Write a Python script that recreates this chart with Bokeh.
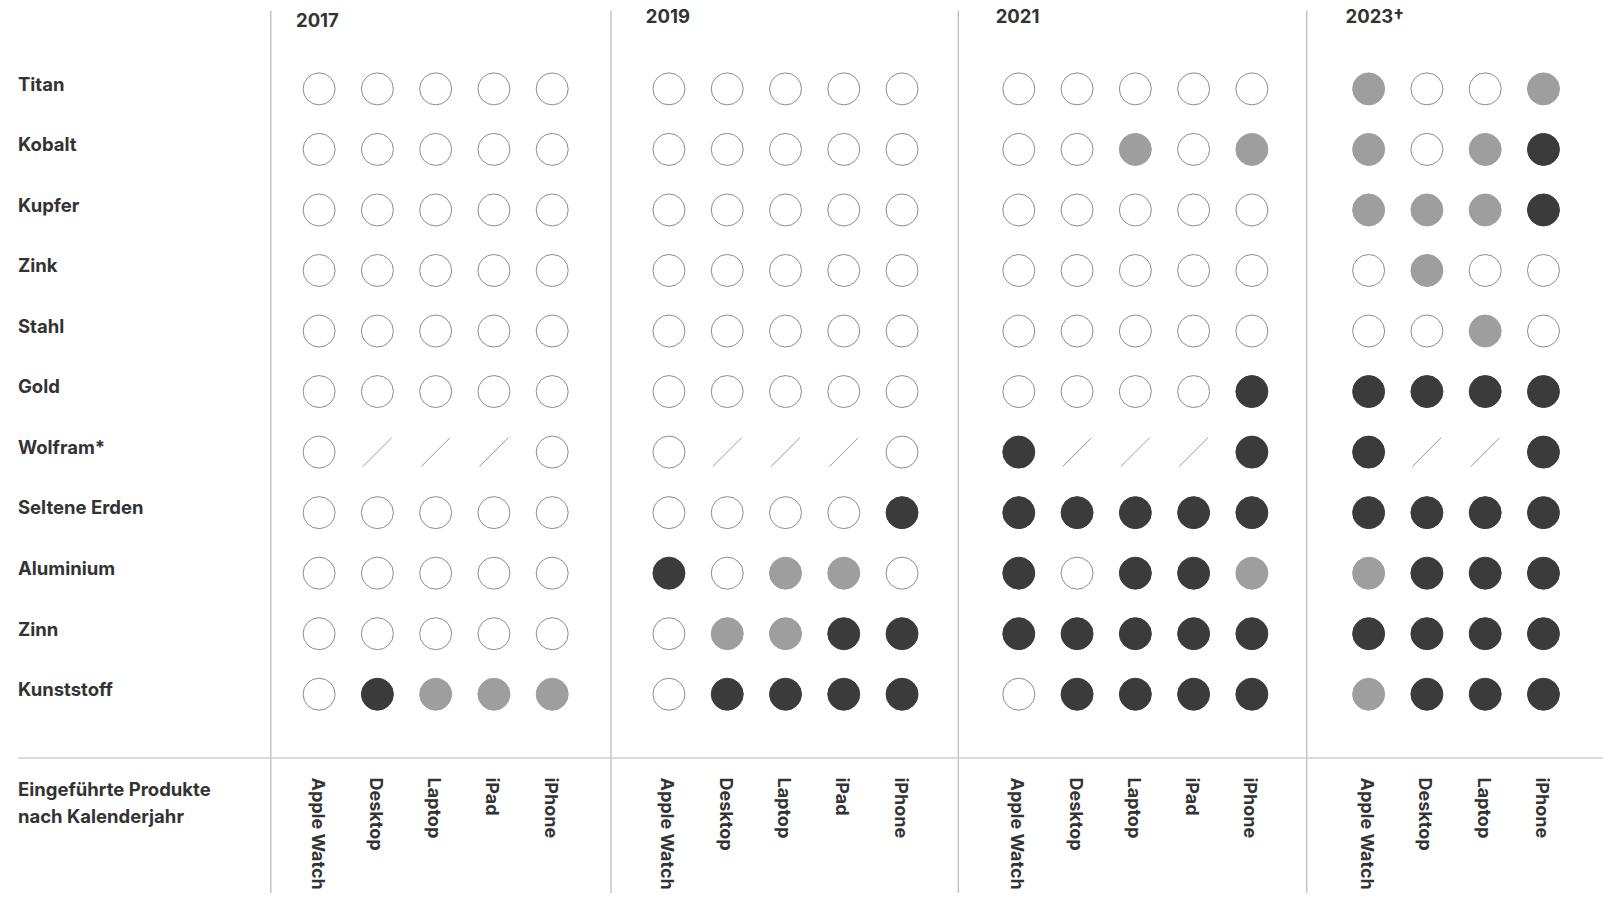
from bokeh.plotting import figure
from bokeh.models import Range1d, ColumnDataSource
from bokeh.core.properties import value
from bokeh.embed import file_html
from bokeh.resources import INLINE
import math

# ---------------- data ----------------
materials = ["Titan", "Kobalt", "Kupfer", "Zink", "Stahl", "Gold", "Wolfram*",
             "Seltene Erden", "Aluminium", "Zinn", "Kunststoff"]
years = ["2017", "2019", "2021", "2023\u2020"]
products_2017 = ["Apple Watch", "Desktop", "Laptop", "iPad", "iPhone"]
products_2019 = ["Apple Watch", "Desktop", "Laptop", "iPad", "iPhone"]
products_2021 = ["Apple Watch", "Desktop", "Laptop", "iPad", "iPhone"]
products_2023 = ["Apple Watch", "Desktop", "Laptop", "iPhone"]
footer_label = ["Eingeführte Produkte", "nach Kalenderjahr"]

# 0 = none, 1 = partial (grey), 2 = full (dark), -1 = not applicable (slash)
status_2017 = [
    [0, 0, 0, 0, 0],
    [0, 0, 0, 0, 0],
    [0, 0, 0, 0, 0],
    [0, 0, 0, 0, 0],
    [0, 0, 0, 0, 0],
    [0, 0, 0, 0, 0],
    [0, -1, -1, -1, 0],
    [0, 0, 0, 0, 0],
    [0, 0, 0, 0, 0],
    [0, 0, 0, 0, 0],
    [0, 2, 1, 1, 1],
]
status_2019 = [
    [0, 0, 0, 0, 0],
    [0, 0, 0, 0, 0],
    [0, 0, 0, 0, 0],
    [0, 0, 0, 0, 0],
    [0, 0, 0, 0, 0],
    [0, 0, 0, 0, 0],
    [0, -1, -1, -1, 0],
    [0, 0, 0, 0, 2],
    [2, 0, 1, 1, 0],
    [0, 1, 1, 2, 2],
    [0, 2, 2, 2, 2],
]
status_2021 = [
    [0, 0, 0, 0, 0],
    [0, 0, 1, 0, 1],
    [0, 0, 0, 0, 0],
    [0, 0, 0, 0, 0],
    [0, 0, 0, 0, 0],
    [0, 0, 0, 0, 2],
    [2, -1, -1, -1, 2],
    [2, 2, 2, 2, 2],
    [2, 0, 2, 2, 1],
    [2, 2, 2, 2, 2],
    [0, 2, 2, 2, 2],
]
status_2023 = [
    [1, 0, 0, 1],
    [1, 0, 1, 2],
    [1, 1, 1, 2],
    [0, 1, 0, 0],
    [0, 0, 1, 0],
    [2, 2, 2, 2],
    [2, -1, -1, 2],
    [2, 2, 2, 2],
    [1, 2, 2, 2],
    [2, 2, 2, 2],
    [1, 2, 2, 2],
]

groups = [
    (products_2017, status_2017),
    (products_2019, status_2019),
    (products_2021, status_2021),
    (products_2023, status_2023),
]

# ---------------- layout ----------------
W, H = 1603, 893
K = 0.973            # layout units per screen pixel
X0, GSTEP, PSTEP = 310, 340.4, 56.7
Y0, RSTEP = 86, 58.9
SEP_X = [263, 594, 932, 1271]
YEAR_Y = [19, 15, 15, 15]
TXT = "#333333"
FONT = value("Inter")
FS = "18.5px"
FS_PROD = "18px"

def col_x(g, j):
    return X0 + GSTEP * g + PSTEP * j

def row_y(i):
    return Y0 + RSTEP * i

p = figure(width=W, height=H, output_backend="svg", toolbar_location=None,
           x_range=Range1d(0, W * K), y_range=Range1d(H * K, 0),
           min_border=0)
p.axis.visible = False
p.grid.visible = False
p.outline_line_color = None
p.background_fill_color = "white"

# separators
p.segment(x0=SEP_X, x1=SEP_X, y0=[10] * 4, y1=[H * K] * 4,
          line_color="#bdbdbd", line_width=1.3)
p.segment(x0=[17], x1=[W * K], y0=[737], y1=[737],
          line_color="#cfcfcf", line_width=1.6)

# circles & slashes
fill_map = {0: "white", 1: "#9e9e9e", 2: "#3b3b3b"}
line_map = {0: "#8c8c8c", 1: "#9e9e9e", 2: "#3b3b3b"}
cx, cy, cf, cl = [], [], [], []
sx0, sy0, sx1, sy1 = [], [], [], []
for g, (prods, stat) in enumerate(groups):
    for i, row in enumerate(stat):
        for j, s in enumerate(row):
            x, y = col_x(g, j), row_y(i)
            if s < 0:
                sx0.append(x - 14); sy0.append(y + 14)
                sx1.append(x + 14); sy1.append(y - 14)
            else:
                cx.append(x); cy.append(y)
                cf.append(fill_map[s]); cl.append(line_map[s])

p.scatter(x="x", y="y", size=32, fill_color="f", line_color="l", line_width=1,
          source=ColumnDataSource(dict(x=cx, y=cy, f=cf, l=cl)))
p.segment(x0=sx0, y0=sy0, x1=sx1, y1=sy1, line_color="#9a9a9a", line_width=1)

# row labels
p.text(x=[17] * len(materials), y=[row_y(i) - 5 for i in range(len(materials))],
       text=materials, text_font=FONT, text_font_style="bold",
       text_font_size=FS, text_color=TXT, text_baseline="middle",
       text_align="left")

# year labels
p.text(x=[col_x(g, 0) - 22.5 for g in range(4)], y=YEAR_Y, text=years,
       text_font=FONT, text_font_style="bold", text_font_size=FS,
       text_color=TXT, text_baseline="middle", text_align="left")

# product labels (rotated)
px, py, pt = [], [], []
for g, (prods, stat) in enumerate(groups):
    for j, name in enumerate(prods):
        px.append(col_x(g, j) - 1); py.append(756); pt.append(name)
p.text(x=px, y=py, text=pt, angle=-math.pi / 2, text_font=FONT,
       text_font_style="bold", text_font_size=FS_PROD, text_color=TXT,
       text_baseline="middle", text_align="left")

# footer label
p.text(x=[17, 17], y=[767, 793], text=footer_label, text_font=FONT,
       text_font_style="bold", text_font_size=FS, text_color=TXT,
       text_baseline="middle", text_align="left")

open("out.html", "w").write(file_html(p, INLINE))
